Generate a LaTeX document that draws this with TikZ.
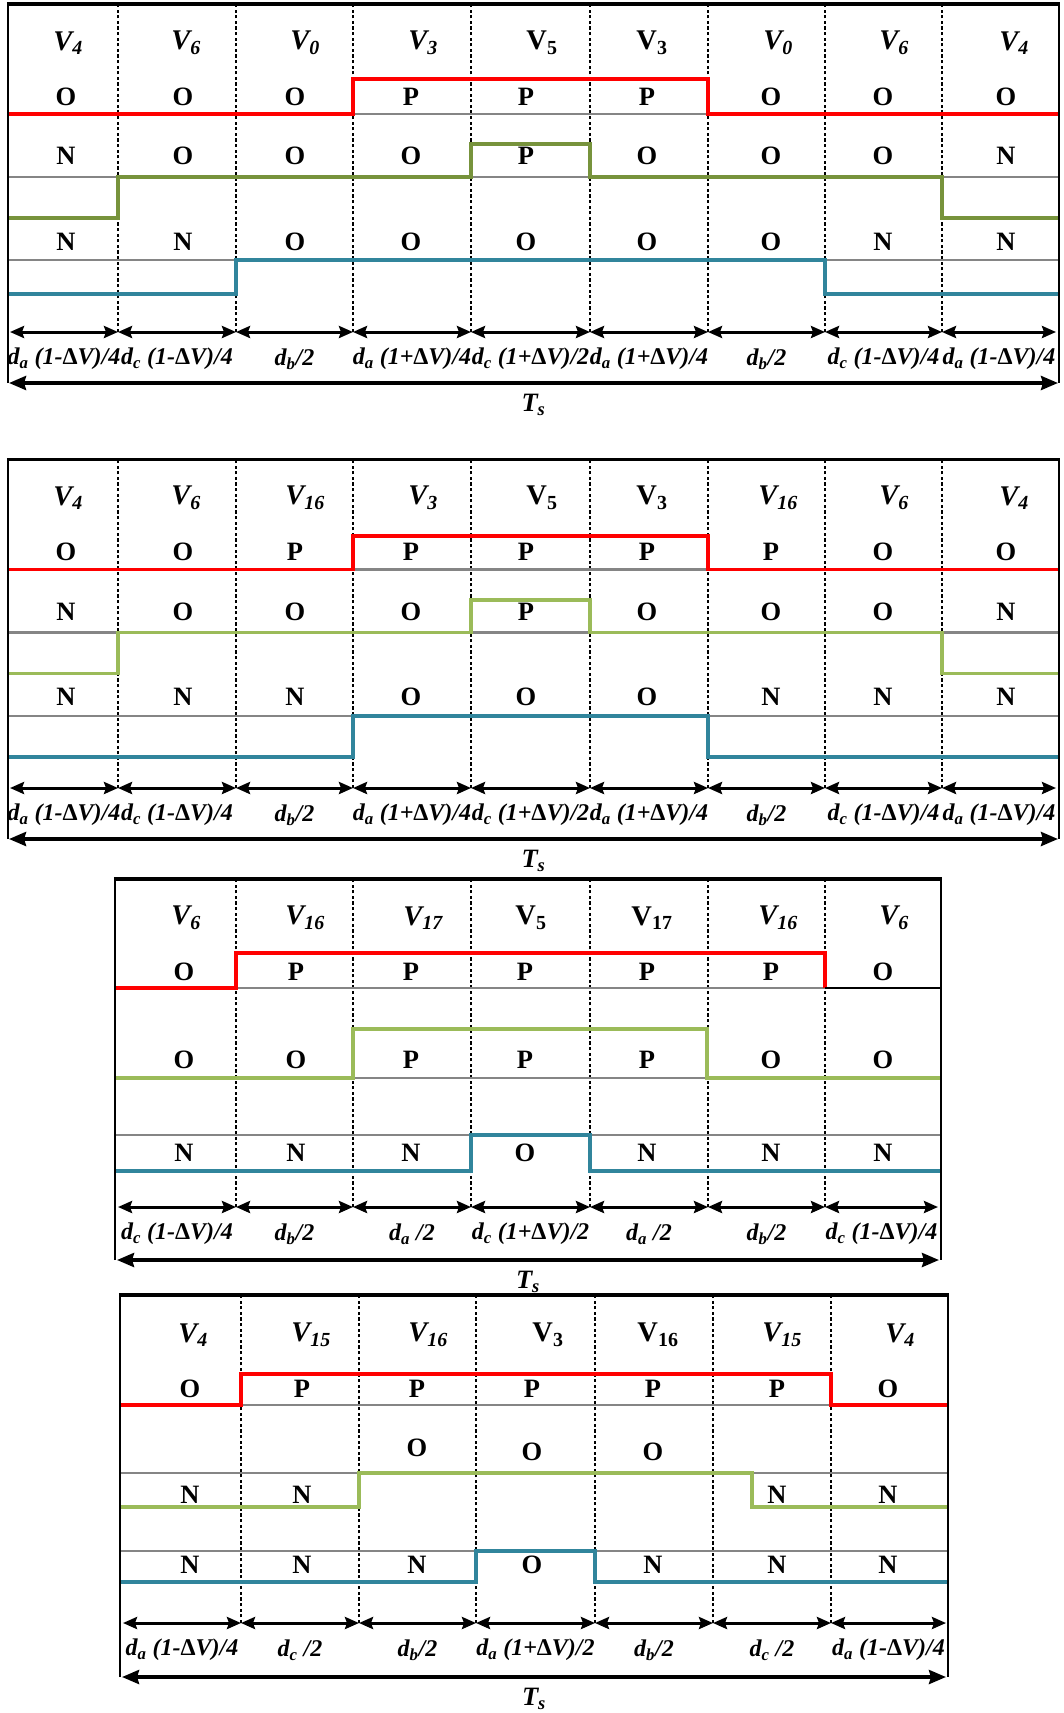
\documentclass[tikz,border=0pt]{standalone}
\usepackage{fontspec}
\setmainfont{Liberation Serif}
\usepackage{xcolor}
\usepackage{tikz}
\usetikzlibrary{arrows.meta}

\definecolor{phred}{HTML}{FF0000}
\definecolor{pholive}{HTML}{77933C}
\definecolor{phgreen}{HTML}{9BBB59}
\definecolor{phblue}{HTML}{31859C}
\definecolor{refgray}{HTML}{858585}

\newcommand{\Vit}[1]{\textit{V\textsubscript{#1}}}
\newcommand{\Vup}[1]{V\textsubscript{#1}}
\newcommand{\dd}[1]{d\textsubscript{#1}}
\newcommand{\dV}{\textup{Δ}V}

\begin{document}
\begin{tikzpicture}[
  x=1pt, y=-1pt,
  frame/.style={line width=3.6pt},
  side/.style={line width=2.4pt},
  divider/.style={line width=1.8pt, dash pattern=on 3.2pt off 2.4pt},
  refline/.style={draw=refgray, line width=2.6pt},
  wave/.style={line width=3.8pt},
  dur/.style={arrows={Stealth[length=14pt,width=12pt,inset=2pt]-Stealth[length=14pt,width=12pt,inset=2pt]}, line width=3pt},
  span/.style={arrows={Stealth[length=17pt,width=14pt,inset=2pt]-Stealth[length=17pt,width=14pt,inset=2pt]}, line width=3.6pt},
  vlab/.style={font=\fontsize{28.5}{31}\selectfont\bfseries},
  stlab/.style={font=\fontsize{26.5}{29}\selectfont\bfseries},
  dlab/.style={font=\fontsize{24}{27}\selectfont\bfseries\itshape, inner sep=0pt, yshift=-27pt},
  tslab/.style={font=\fontsize{26.5}{29}\selectfont\bfseries\itshape, inner sep=0pt, yshift=-22pt}
]
\useasboundingbox (0,0) rectangle (1064,1713);

% ---------- sequence 1 : V4 V6 V0 V3 V5 V3 V0 V6 V4
\foreach \x [count=\i from 0] in {10,118,236,353,471,590,708,825,942,1056}
  \coordinate (a1-\i) at (\x,332);
\foreach \i in {1,...,8}
  \draw[divider] (a1-\i) -- ++(0,-328);
\draw[refline] (8,114) -- (1059,114) (8,177) -- (1059,177) (8,260) -- (1059,260);
\draw[wave, phred] (8,114) -| (353,79) -| (708,114) -- (1059,114);
\draw[wave, pholive] (8,218) -| (118,177) -| (471,144) -| (590,177) -| (942,218) -- (1059,218);
\draw[wave, phblue] (8,294) -| (236,260) -| (825,294) -- (1059,294);
\draw[side] (8,383) -- (8,4) (1059,4) -- (1059,383);
\draw[frame] (6.8,4) -- (1060.2,4);

\foreach \x/\t [count=\i] in {68/\Vit{4},186/\Vit{6},305/\Vit{0},423/\Vit{3},542/\Vup{5},652/\Vup{3},778/\Vit{0},894/\Vit{6},1014/\Vit{4}}
  \node[vlab] (v1-\i) at (\x,43) {\t};
\foreach \x/\a/\b/\c [count=\i] in {66/O/N/N,183/O/O/N,295/O/O/O,411/P/O/O,526/P/P/O,647/P/O/O,771/O/O/O,883/O/O/N,1006/O/N/N}
{ \node[stlab] (sa1-\i) at (\x,97) {\a};
  \node[stlab] (sb1-\i) at (\x,156) {\b};
  \node[stlab] (sc1-\i) at (\x,242) {\c}; }
\foreach \t [count=\i] in {\dd{a} (1-\dV)/4,\dd{c} (1-\dV)/4,\dd{b}/2,\dd{a} (1+\dV)/4,\dd{c} (1+\dV)/2,\dd{a} (1+\dV)/4,\dd{b}/2,\dd{c} (1-\dV)/4,\dd{a} (1-\dV)/4}
{ \pgfmathtruncatemacro\j{\i-1}
  \draw[dur] (a1-\j) -- node[dlab] (d1-\i) {\t} (a1-\i); }
\coordinate (t1l) at (9,383);
\coordinate (t1r) at (1058,383);
\draw[span] (t1l) -- node[tslab] (ts1) {T\textsubscript{s}} (t1r);

% ---------- sequence 2 : V4 V6 V16 V3 V5 V3 V16 V6 V4
\foreach \x [count=\i from 0] in {10,118,236,353,471,590,708,825,942,1056}
  \coordinate (a2-\i) at (\x,788);
\foreach \i in {1,...,8}
  \draw[divider] (a2-\i) -- ++(0,-328);
\draw[refline] (8,569.5) -- (1059,569.5) (8,632.5) -- (1059,632.5) (8,716) -- (1059,716);
\draw[wave, phred] (8,569.5) -| (353,536) -| (708,569.5) -- (1059,569.5);
\draw[wave, phgreen] (8,673.5) -| (118,632.5) -| (471,600) -| (590,632.5) -| (942,673.5) -- (1059,673.5);
\draw[wave, phblue] (8,757) -| (353,716) -| (708,757) -- (1059,757);
\draw[side] (8,839) -- (8,459.5) (1059,459.5) -- (1059,839);
\draw[frame] (6.8,459.5) -- (1060.2,459.5);

\foreach \x/\t [count=\i] in {68/\Vit{4},186/\Vit{6},305/\Vit{16},423/\Vit{3},542/\Vup{5},652/\Vup{3},778/\Vit{16},894/\Vit{6},1014/\Vit{4}}
  \node[vlab] (v2-\i) at (\x,498) {\t};
\foreach \x/\a/\b/\c [count=\i] in {66/O/N/N,183/O/O/N,295/P/O/N,411/P/O/O,526/P/P/O,647/P/O/O,771/P/O/N,883/O/O/N,1006/O/N/N}
{ \node[stlab] (sa2-\i) at (\x,552) {\a};
  \node[stlab] (sb2-\i) at (\x,612) {\b};
  \node[stlab] (sc2-\i) at (\x,697) {\c}; }
\foreach \t [count=\i] in {\dd{a} (1-\dV)/4,\dd{c} (1-\dV)/4,\dd{b}/2,\dd{a} (1+\dV)/4,\dd{c} (1+\dV)/2,\dd{a} (1+\dV)/4,\dd{b}/2,\dd{c} (1-\dV)/4,\dd{a} (1-\dV)/4}
{ \pgfmathtruncatemacro\j{\i-1}
  \draw[dur] (a2-\j) -- node[dlab] (d2-\i) {\t} (a2-\i); }
\coordinate (t2l) at (9,839);
\coordinate (t2r) at (1058,839);
\draw[span] (t2l) -- node[tslab] (ts2) {T\textsubscript{s}} (t2r);

% ---------- sequence 3 : V6 V16 V17 V5 V17 V16 V6
\foreach \x [count=\i from 0] in {118,236,353,471,590,708,825,938}
  \coordinate (a3-\i) at (\x,1207);
\foreach \i in {1,...,6}
  \draw[divider] (a3-\i) -- ++(0,-328);
\draw[refline] (115,988) -- (941,988) (115,1078) -- (941,1078) (115,1135) -- (941,1135);
\draw[wave, phred] (115,988) -| (236,953) -| (825,988);
\draw[line width=2pt] (825,988) -- (941,988);
\draw[wave, phgreen] (115,1078) -| (353,1029) -| (707,1078) -- (941,1078);
\draw[wave, phblue] (115,1171) -| (471,1135) -| (590,1171) -- (941,1171);
\draw[side] (115,1260) -- (115,879) (941,879) -- (941,1260);
\draw[frame] (113.8,879) -- (942.2,879);

\foreach \x/\t [count=\i] in {186/\Vit{6},305/\Vit{16},423/\Vit{17},531/\Vup{5},652/\Vup{17},778/\Vit{16},894/\Vit{6}}
  \node[vlab] (v3-\i) at (\x,918) {\t};
\foreach \x/\a/\b/\c [count=\i] in {184/O/O/N,296/P/O/N,411/P/P/N,525/P/P/O,647/P/P/N,771/P/O/N,883/O/O/N}
{ \node[stlab] (sa3-\i) at (\x,972) {\a};
  \node[stlab] (sb3-\i) at (\x,1060) {\b};
  \node[stlab] (sc3-\i) at (\x,1153) {\c}; }
\foreach \t [count=\i] in {\dd{c} (1-\dV)/4,\dd{b}/2,\dd{a} /2,\dd{c} (1+\dV)/2,\dd{a} /2,\dd{b}/2,\dd{c} (1-\dV)/4}
{ \pgfmathtruncatemacro\j{\i-1}
  \draw[dur] (a3-\j) -- node[dlab] (d3-\i) {\t} (a3-\i); }
\coordinate (t3l) at (117,1260);
\coordinate (t3r) at (939,1260);
\draw[span] (t3l) -- node[tslab] (ts3) {T\textsubscript{s}} (t3r);

% ---------- sequence 4 : V4 V15 V16 V3 V16 V15 V4
\foreach \x [count=\i from 0] in {123,241,359,476,595,713,831,946}
  \coordinate (a4-\i) at (\x,1623);
\foreach \i in {1,...,6}
  \draw[divider] (a4-\i) -- ++(0,-328);
\draw[refline] (120,1405) -- (948,1405) (120,1473) -- (948,1473) (120,1551) -- (948,1551);
\draw[wave, phred] (120,1405) -| (241,1374) -| (831,1405) -- (948,1405);
\draw[wave, phgreen] (120,1507) -| (359,1473) -| (752,1507) -- (948,1507);
\draw[wave, phblue] (120,1582) -| (476,1551) -| (595,1582) -- (948,1582);
\draw[side] (120,1677) -- (120,1295) (948,1295) -- (948,1677);
\draw[frame] (118.8,1295) -- (949.2,1295);

\foreach \x/\t [count=\i] in {193/\Vit{4},311/\Vit{15},428/\Vit{16},548/\Vup{3},658/\Vup{16},782/\Vit{15},900/\Vit{4}}
  \node[vlab] (v4-\i) at (\x,1335) {\t};
\foreach \x/\a/\c [count=\i] in {190/O/N,302/P/N,417/P/N,532/P/O,653/P/N,777/P/N,888/O/N}
{ \node[stlab] (sa4-\i) at (\x,1389) {\a};
  \node[stlab] (sc4-\i) at (\x,1565) {\c}; }
\foreach \x/\y/\b [count=\i] in {190/1495/N,302/1495/N,417/1448/O,532/1452/O,653/1452/O,777/1495/N,888/1495/N}
  \node[stlab] (sb4-\i) at (\x,\y) {\b};
\foreach \t [count=\i] in {\dd{a} (1-\dV)/4,\dd{c} /2,\dd{b}/2,\dd{a} (1+\dV)/2,\dd{b}/2,\dd{c} /2,\dd{a} (1-\dV)/4}
{ \pgfmathtruncatemacro\j{\i-1}
  \draw[dur] (a4-\j) -- node[dlab] (d4-\i) {\t} (a4-\i); }
\coordinate (t4l) at (122,1677);
\coordinate (t4r) at (946,1677);
\draw[span] (t4l) -- node[tslab] (ts4) {T\textsubscript{s}} (t4r);
\end{tikzpicture}
\end{document}
